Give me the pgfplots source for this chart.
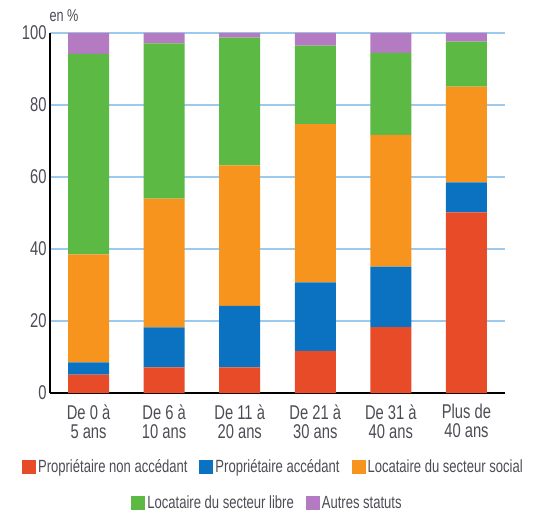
\documentclass[border=0pt]{standalone}
\usepackage{pgfplots}
\pgfplotsset{compat=1.18}
\usepackage{pgfplotstable}
\usepackage{fontspec}
\setmainfont{Liberation Sans}[FakeStretch=0.74]

\definecolor{cRed}{HTML}{E84B28}
\definecolor{cBlue}{HTML}{0B72C1}
\definecolor{cOrange}{HTML}{F7941E}
\definecolor{cGreen}{HTML}{5CB944}
\definecolor{cPurple}{HTML}{B57BC2}
\definecolor{cGrid}{HTML}{9CC9EE}
\definecolor{cText}{HTML}{4C4C55}

\pgfplotstableread{
x red  blue orange green purple
0 5.1  3.4  30.0   55.7  5.8
1 7.1  11.1 35.8   43.1  2.9
2 7.1  17.1 39.0   35.5  1.3
3 11.7 19.0 44.0   21.8  3.5
4 18.3 16.8 36.6   22.8  5.5
5 50.2 8.3  26.6   12.5  2.4
}\datatable

\pgfplotsset{
  sq/.style={legend image code/.code={\fill[##1] (0bp,-7bp) rectangle (14bp,7bp);}},
  leg/.style={draw=none, fill=none, font=\fontsize{17.7}{19}\selectfont, text=cText,
    anchor=center, inner sep=0pt,
    /tikz/every even column/.append style={column sep=10bp},
    /tikz/every odd column/.append style={column sep=0bp}},
}

\begin{document}
\begin{tikzpicture}
\begin{axis}[
  at={(0,0)}, anchor=south west,
  scale only axis, width=455bp, height=360bp,
  clip=false,
  ybar stacked, bar width=41bp,
  xmin=-0.51, xmax=5.51, ymin=0, ymax=100,
  axis x line=bottom, axis y line=left,
  axis line style={black, line width=2.5bp, -},
  ytick={0,20,...,100}, xtick=data,
  xticklabels={{De 0 à\\5 ans},{De 6 à\\10 ans},{De 11 à\\20 ans},{De 21 à\\30 ans},{De 31 à\\40 ans},{Plus de\\40 ans}},
  xticklabel style={align=center, font=\fontsize{20}{19}\selectfont, text=cText, yshift=-8bp},
  yticklabel style={font=\fontsize{20}{20}\selectfont, text=cText},
  /pgf/number format/assume math mode=true,
  major tick length=0pt,
  ymajorgrids, grid style={cGrid, line width=1.5bp},
  legend columns=3,
  legend style={leg, at={(0.491,-0.2056)}},
]
\addplot[fill=cRed, draw=none, sq] table[x=x, y=red] {\datatable};
\addlegendentry{Propriétaire non accédant}
\addplot[fill=cBlue, draw=none, sq] table[x=x, y=blue] {\datatable};
\addlegendentry{Propriétaire accédant}
\addplot[fill=cOrange, draw=none, sq] table[x=x, y=orange] {\datatable};
\addlegendentry{Locataire du secteur social}
\addplot[fill=cGreen, draw=none, sq, forget plot] table[x=x, y=green] {\datatable};
\addplot[fill=cPurple, draw=none, sq, forget plot] table[x=x, y=purple] {\datatable};
\node[anchor=west, font=\fontsize{17.2}{18}\selectfont, text=cText, xshift=-4bp, yshift=17bp] at (rel axis cs:0,1) {en \%};
\end{axis}
\begin{axis}[
  at={(0,0)}, anchor=south west,
  scale only axis, width=455bp, height=360bp,
  hide axis, xmin=0, xmax=1, ymin=0, ymax=1,
  legend columns=2,
  legend style={leg, at={(0.478,-0.3056)}},
]
\addlegendimage{fill=cGreen, draw=none, sq}
\addlegendentry{Locataire du secteur libre}
\addlegendimage{fill=cPurple, draw=none, sq}
\addlegendentry{Autres statuts}
\end{axis}
\path (-50bp,-121bp) rectangle (485bp,393bp);
\end{tikzpicture}
\end{document}
